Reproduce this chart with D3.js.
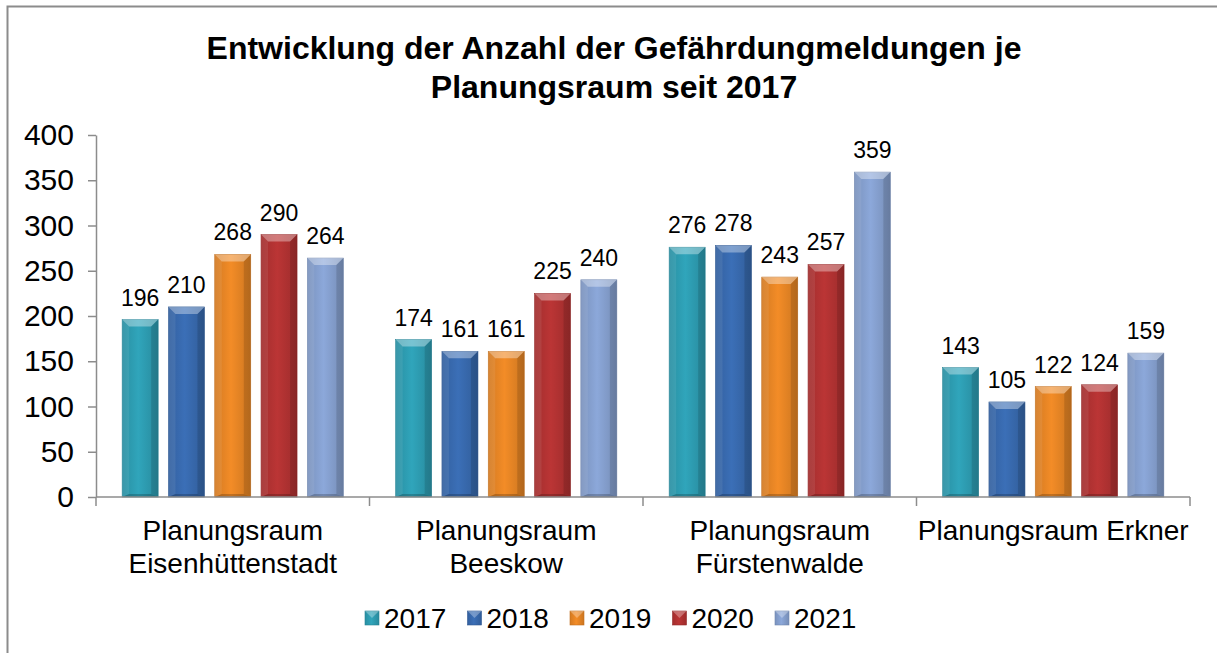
<!DOCTYPE html>
<html>
<head>
<meta charset="utf-8">
<script src="https://cdn.jsdelivr.net/npm/d3@7"></script>
<style>
  body { margin: 0; background: #fff; }
  svg { display: block; font-family: "Liberation Sans", Arial, sans-serif; }
</style>
</head>
<body>
<script>
const regions = [
  ["Planungsraum", "Eisenhüttenstadt"],
  ["Planungsraum", "Beeskow"],
  ["Planungsraum", "Fürstenwalde"],
  ["Planungsraum Erkner"]
];
const years = ["2017", "2018", "2019", "2020", "2021"];
const values2017 = [196, 174, 276, 143];
const values2018 = [210, 161, 278, 105];
const values2019 = [268, 161, 243, 122];
const values2020 = [290, 225, 257, 124];
const values2021 = [264, 240, 359, 159];
const yTicks = [0, 50, 100, 150, 200, 250, 300, 350, 400];
const titleLines = ["Entwicklung der Anzahl der Gefährdungmeldungen je", "Planungsraum seit 2017"];

const series = [values2017, values2018, values2019, values2020, values2021];
const colors = ["#2fa2b8", "#3a6db4", "#ef8a26", "#b83434", "#8aa5d6"];

const W = 1217, H = 653;
const plot = { left: 96, right: 1190, top: 135, bottom: 497 };
const bevel = 7;

const svg = d3.select("body").append("svg").attr("width", W).attr("height", H);

// chart frame (only top and left edges are visible in the crop)
svg.append("path")
  .attr("d", `M7.5,${H} V6.5 H${W}`)
  .attr("fill", "none")
  .attr("stroke", "#8c8c8c")
  .attr("stroke-width", 2);

const defs = svg.append("defs");
colors.forEach((c, i) => {
  const g = defs.append("linearGradient").attr("id", "grad-" + i)
    .attr("x1", "0").attr("x2", "1").attr("y1", "0").attr("y2", "0");
  const base = d3.color(c);
  g.append("stop").attr("offset", "0").attr("stop-color", base.darker(0.35));
  g.append("stop").attr("offset", "0.45").attr("stop-color", base.brighter(0.05));
  g.append("stop").attr("offset", "1").attr("stop-color", base.darker(0.45));
});

const x0 = d3.scaleBand().domain(d3.range(regions.length)).range([plot.left, plot.right]);
const x1 = d3.scaleBand().domain(years).range([0, x0.bandwidth()])
  .paddingInner(0.2225).paddingOuter(0.565);
const y = d3.scaleLinear().domain([0, 400]).range([plot.bottom, plot.top]);

// title
svg.append("g")
  .selectAll("text")
  .data(titleLines)
  .enter()
  .append("text")
  .attr("x", 614)
  .attr("y", (d, i) => 59 + i * 39)
  .attr("text-anchor", "middle")
  .attr("font-size", 32)
  .attr("font-weight", "bold")
  .text((d) => d);

// y axis
const yAxis = svg.append("g")
  .attr("transform", `translate(${plot.left},0)`)
  .call(d3.axisLeft(y).tickValues(yTicks).tickSize(8).tickPadding(14).tickSizeOuter(0));
yAxis.select(".domain").attr("stroke", "#8c8c8c").attr("stroke-width", 1.5);
yAxis.selectAll(".tick line").attr("stroke", "#8c8c8c").attr("stroke-width", 1.5);
yAxis.selectAll(".tick text").attr("font-size", 30).attr("fill", "#000")
  .attr("font-family", "Liberation Sans, Arial, sans-serif");

// bars
const groups = svg.append("g")
  .selectAll("g")
  .data(regions.map((r, i) => i))
  .enter()
  .append("g")
  .attr("transform", (d) => `translate(${x0(d)},0)`);

const bars = groups.selectAll("g.bar")
  .data((ri) => years.map((yr, si) => ({ ri, si, yr, v: series[si][ri] })))
  .enter()
  .append("g")
  .attr("class", "bar");

bars.append("rect")
  .attr("x", (d) => x1(d.yr))
  .attr("y", (d) => y(d.v))
  .attr("width", x1.bandwidth())
  .attr("height", (d) => y(0) - y(d.v))
  .attr("fill", (d) => `url(#grad-${d.si})`)
  .attr("stroke", (d) => d3.color(colors[d.si]).darker(0.6))
  .attr("stroke-width", 0.6);

function bevelPath(d, side) {
  const xl = x1(d.yr), xr = xl + x1.bandwidth();
  const yt = y(d.v), yb = y(0);
  if (side === "top") return `M${xl},${yt} L${xr},${yt} L${xr - bevel},${yt + bevel} L${xl + bevel},${yt + bevel} Z`;
  if (side === "left") return `M${xl},${yt} L${xl + bevel},${yt + bevel} L${xl + bevel},${yb - 3} L${xl},${yb} Z`;
  if (side === "right") return `M${xr},${yt} L${xr - bevel},${yt + bevel} L${xr - bevel},${yb - 3} L${xr},${yb} Z`;
  return `M${xl},${yb} L${xl + bevel},${yb - 3} L${xr - bevel},${yb - 3} L${xr},${yb} Z`;
}

bars.append("path").attr("d", (d) => bevelPath(d, "top")).attr("fill", "#fff").attr("opacity", 0.35);
bars.append("path").attr("d", (d) => bevelPath(d, "left")).attr("fill", "#fff").attr("opacity", 0.08);
bars.append("path").attr("d", (d) => bevelPath(d, "right")).attr("fill", "#000").attr("opacity", 0.12);
bars.append("path").attr("d", (d) => bevelPath(d, "bottom")).attr("fill", "#000").attr("opacity", 0.2);

// value labels
bars.append("text")
  .attr("x", (d) => x1(d.yr) + x1.bandwidth() / 2)
  .attr("y", (d) => y(d.v) - 14)
  .attr("text-anchor", "middle")
  .attr("font-size", 23)
  .text((d) => d.v);

// x axis
const xAxis = svg.append("g");
xAxis.append("line")
  .attr("x1", plot.left).attr("x2", plot.right)
  .attr("y1", plot.bottom).attr("y2", plot.bottom)
  .attr("stroke", "#8c8c8c").attr("stroke-width", 1.5);
xAxis.selectAll("line.tick")
  .data(d3.range(regions.length + 1))
  .enter()
  .append("line")
  .attr("class", "tick")
  .attr("x1", (d) => plot.left + d * x0.step())
  .attr("x2", (d) => plot.left + d * x0.step())
  .attr("y1", plot.bottom)
  .attr("y2", plot.bottom + 9)
  .attr("stroke", "#8c8c8c").attr("stroke-width", 1.5);

const catLabels = xAxis.selectAll("text")
  .data(regions)
  .enter()
  .append("text")
  .attr("x", (d, i) => x0(i) + x0.bandwidth() / 2)
  .attr("y", 540)
  .attr("text-anchor", "middle")
  .attr("font-size", 28);
catLabels.selectAll("tspan")
  .data((d) => d)
  .enter()
  .append("tspan")
  .attr("x", function () { return this.parentNode.getAttribute("x"); })
  .attr("dy", (d, i) => (i === 0 ? 0 : 33))
  .text((d) => d);

// legend
const legend = svg.append("g")
  .selectAll("g")
  .data(years)
  .enter()
  .append("g")
  .attr("transform", (d, i) => `translate(${365 + i * 102.5},611)`);

legend.append("rect")
  .attr("x", 0).attr("y", 0).attr("width", 14).attr("height", 14)
  .attr("fill", (d, i) => `url(#grad-${i})`)
  .attr("stroke", (d, i) => d3.color(colors[i]).darker(0.6))
  .attr("stroke-width", 0.6);
legend.append("path")
  .attr("d", "M0,0 L14,0 L7,7 Z")
  .attr("fill", "#fff").attr("opacity", 0.3);
legend.append("text")
  .attr("x", 19)
  .attr("y", 17)
  .attr("font-size", 28)
  .text((d) => d);
</script>
</body>
</html>
